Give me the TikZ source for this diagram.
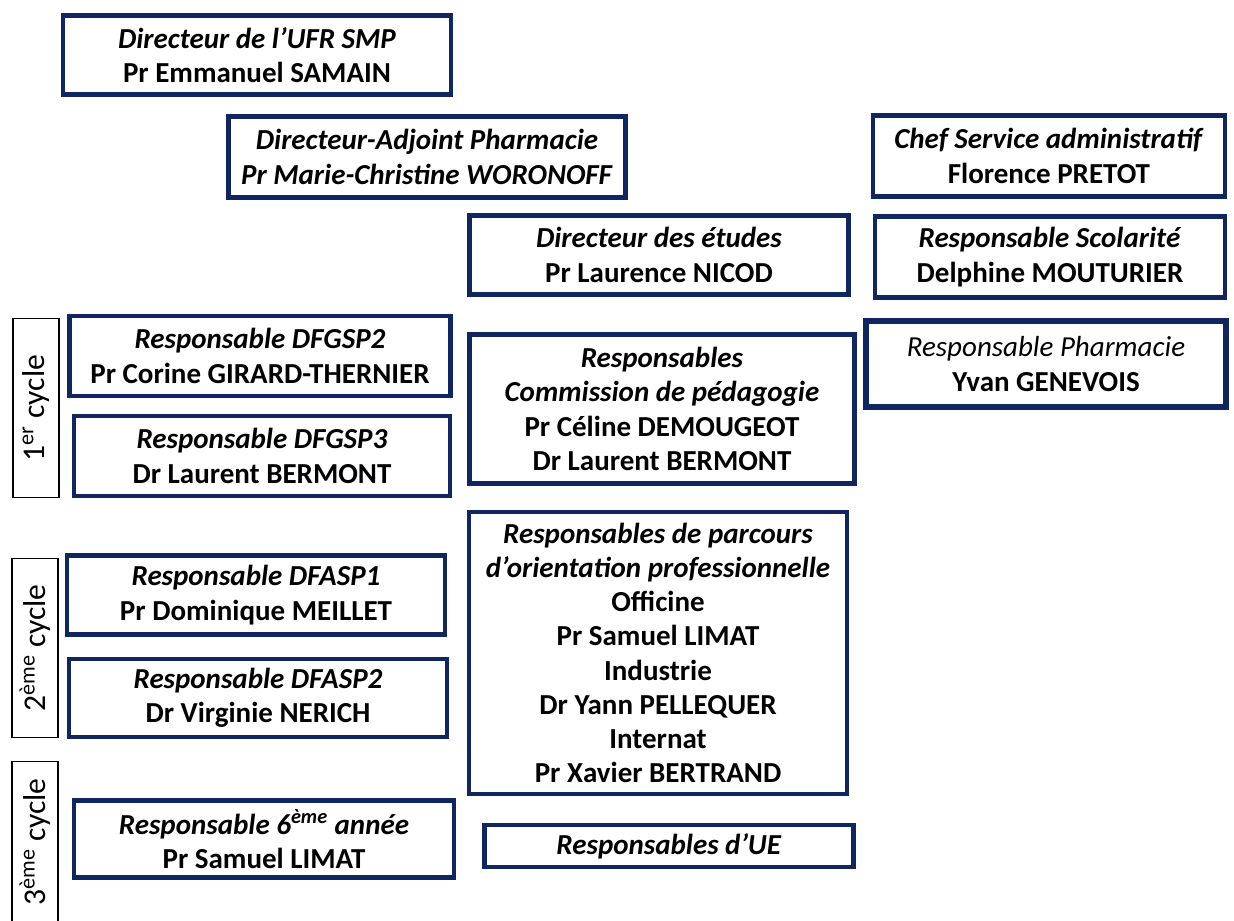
\documentclass[tikz,border=0pt]{standalone}
\usepackage{fontspec}
\setmainfont{Carlito}
\definecolor{navyline}{RGB}{16,38,96}

\begin{document}
\begin{tikzpicture}[x=0.02cm,y=-0.02cm]
\tikzset{
  rolebox/.style={draw=navyline,line width=2.6pt,rectangle,inner sep=0pt,align=center,
    font=\fontsize{16.5}{19.5}\selectfont\bfseries},
  cyclebox/.style={draw=black,line width=1.1pt,rectangle,inner sep=0pt,
    minimum width=0.93cm,minimum height=3.58cm},
  cyclelabel/.style={rotate=90,font=\fontsize{18}{20}\selectfont}
}
\useasboundingbox (0,0) rectangle (1234,920);
% direction
\node[rolebox,minimum width=7.76cm,minimum height=1.58cm] (n_ufr) at (257,55)
  {\textit{Directeur de l’UFR SMP}\\Pr Emmanuel SAMAIN};
\node[rolebox,minimum width=7.94cm,minimum height=1.62cm] (n_adjoint) at (427,157)
  {\textit{Directeur-Adjoint Pharmacie}\\\textit{Pr Marie-Christine WORONOFF}};
\node[rolebox,minimum width=7.58cm,minimum height=1.58cm] (n_etudes) at (659,255)
  {\textit{Directeur des études}\\Pr Laurence NICOD};
% administration
\node[rolebox,minimum width=7.04cm,minimum height=1.62cm] (n_chef) at (1049,156)
  {\textit{Chef Service administratif}\\Florence PRETOT};
\node[rolebox,minimum width=7.00cm,minimum height=1.62cm] (n_scol) at (1050,257)
  {\textit{Responsable Scolarité}\\Delphine MOUTURIER};
\node[rolebox,line width=3.2pt,minimum width=7.20cm,minimum height=1.72cm] (n_pharma) at (1046,364)
  {\textmd{\textit{Responsable Pharmacie}}\\Yvan GENEVOIS};
% cycles
\node[cyclebox] (c_un) at (36,408) {};
\node[cyclelabel] at (c_un) {1\textsuperscript{er} cycle};
\node[cyclebox] (c_deux) at (35,648) {};
\node[cyclelabel] at (c_deux) {2\textsuperscript{ème} cycle};
\node[cyclebox] (c_trois) at (35,851) {};
\node[cyclelabel] at (35,842) {3\textsuperscript{ème} cycle};
% responsables d'annee
\node[rolebox,minimum width=7.62cm,minimum height=1.60cm] (n_dfgsp2) at (260,356)
  {\textit{Responsable DFGSP2}\\Pr Corine GIRARD-THERNIER};
\node[rolebox,minimum width=7.52cm,minimum height=1.60cm] (n_dfgsp3) at (262,456)
  {\textit{Responsable DFGSP3}\\Dr Laurent BERMONT};
\node[rolebox,minimum width=7.56cm,minimum height=1.58cm] (n_dfasp1) at (256,595)
  {\textit{Responsable DFASP1}\\Pr Dominique MEILLET};
\node[rolebox,minimum width=7.56cm,minimum height=1.56cm] (n_dfasp2) at (258,698)
  {\textit{Responsable DFASP2}\\Dr Virginie NERICH};
\node[rolebox,minimum width=7.60cm,minimum height=1.54cm] (n_sixieme) at (264,839)
  {\textit{Responsable 6\textsuperscript{ème} année}\\Pr Samuel LIMAT};
% commissions
\node[rolebox,minimum width=7.70cm,minimum height=2.98cm] (n_commission) at (662,409)
  {\textit{Responsables}\\\textit{Commission de pédagogie}\\Pr Céline DEMOUGEOT\\Dr Laurent BERMONT};
\node[rolebox,minimum width=7.56cm,minimum height=5.64cm] (n_parcours) at (658,653)
  {\textit{Responsables de parcours}\\\textit{d’orientation professionnelle}\\Officine\\Pr Samuel LIMAT\\
   Industrie\\Dr Yann PELLEQUER\\Internat\\Pr Xavier BERTRAND};
\node[rolebox,minimum width=7.38cm,minimum height=0.84cm] (n_ue) at (669,846)
  {\textit{Responsables d’UE}};
\end{tikzpicture}
\end{document}
